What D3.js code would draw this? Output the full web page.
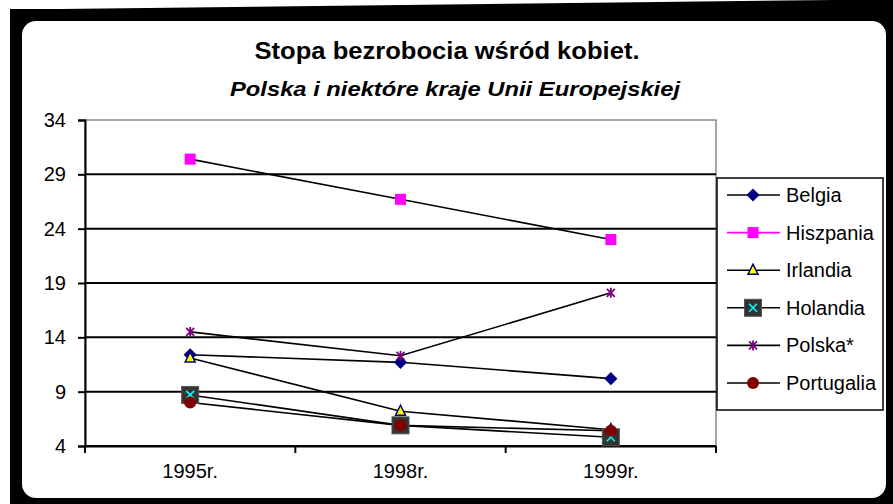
<!DOCTYPE html>
<html><head><meta charset="utf-8">
<script src="https://cdn.jsdelivr.net/npm/d3@7"></script>
<style>body{margin:0;background:#fff}svg{display:block}text{font-family:"Liberation Sans",Arial,sans-serif}</style>
</head><body>
<svg id="c" width="893" height="504"></svg>
<script>
const categories = ["1995r.", "1998r.", "1999r."];
const seriesNames = ["Belgia", "Hiszpania", "Irlandia", "Holandia", "Polska*", "Portugalia"];
const belgia = [12.4, 11.7, 10.2];
const hiszpania = [30.4, 26.7, 23.0];
const irlandia = [12.1, 7.2, 5.5];
const holandia = [8.7, 5.9, 4.8];
const polska = [14.5, 12.3, 18.1];
const portugalia = [8.0, 5.9, 5.4];
const yTicks = [4, 9, 14, 19, 24, 29, 34];
const title = "Stopa bezrobocia wśród kobiet.";
const subtitle = "Polska i niektóre kraje Unii Europejskiej";

const seriesValues = [belgia, hiszpania, irlandia, holandia, polska, portugalia];
const svg = d3.select("#c");

// frame
svg.append("path").attr("d", "M10,9 L60,9 L833,0 L893,0 L893,504 L10,504 Z").attr("fill", "#000");
svg.append("rect").attr("x", 22).attr("y", 21).attr("width", 864).attr("height", 477).attr("rx", 14).attr("fill", "#fff");

// titles
svg.append("text").attr("x", 447).attr("y", 59).attr("text-anchor", "middle")
  .attr("font-size", 23).attr("font-weight", "bold").attr("textLength", 385).attr("lengthAdjust", "spacingAndGlyphs").text(title);
svg.append("text").attr("x", 455).attr("y", 96).attr("text-anchor", "middle")
  .attr("font-size", 21).attr("font-weight", "bold").attr("font-style", "italic").attr("textLength", 450).attr("lengthAdjust", "spacingAndGlyphs").text(subtitle);

const L = 85, R = 716, T = 120, B = 446;
const x = d3.scaleBand().domain(categories).range([L, R]);
const y = d3.scaleLinear().domain([4, 34]).range([B, T]);
const cx = c => x(c) + x.bandwidth() / 2;

// plot border
svg.append("rect").attr("x", L).attr("y", T).attr("width", R - L).attr("height", B - T).attr("fill", "none").attr("stroke", "#888").attr("stroke-width", 1.5);

// gridlines
svg.append("g").selectAll("line").data(yTicks.filter(t => t !== 34)).join("line")
  .attr("x1", L).attr("x2", R).attr("y1", d => y(d)).attr("y2", d => y(d)).attr("stroke", "#000").attr("stroke-width", 2);

// y axis
const yAxis = svg.append("g").attr("transform", `translate(${L},0)`)
  .call(d3.axisLeft(y).tickValues(yTicks).tickSize(7).tickPadding(12));
yAxis.select(".domain").attr("stroke", "#000").attr("stroke-width", 2);
yAxis.selectAll(".tick line").attr("stroke", "#000").attr("stroke-width", 2);
yAxis.selectAll("text").attr("font-size", 20).attr("fill", "#000").attr("font-family", "Liberation Sans, Arial, sans-serif");

// x axis
const xAxis = svg.append("g").attr("transform", `translate(0,${B})`)
  .call(d3.axisBottom(x).tickSize(0).tickPadding(18));
xAxis.select(".domain").attr("stroke", "#000").attr("stroke-width", 2);
xAxis.selectAll("text").attr("font-size", 20).attr("fill", "#000").attr("font-family", "Liberation Sans, Arial, sans-serif");
const bounds = [L, ...categories.slice(1).map(c => x(c)), R];
svg.append("g").selectAll("line").data(bounds).join("line")
  .attr("x1", d => d).attr("x2", d => d).attr("y1", B).attr("y2", B + 7).attr("stroke", "#000").attr("stroke-width", 2);

// marker drawer
function marker(g, i) {
  if (i === 0) {
    g.append("path").attr("d", d3.symbol(d3.symbolDiamond2, 110)()).attr("fill", "#000080");
  } else if (i === 1) {
    g.append("rect").attr("x", -5.5).attr("y", -5.5).attr("width", 11).attr("height", 11).attr("fill", "#ff00ff");
  } else if (i === 2) {
    g.append("path").attr("d", "M0,-6 L5,4 L-5,4 Z").attr("fill", "#ffff00").attr("stroke", "#000080").attr("stroke-width", 1.5);
  } else if (i === 3) {
    g.append("rect").attr("x", -8.5).attr("y", -8.5).attr("width", 17).attr("height", 17).attr("fill", "#333").attr("stroke", "#555").attr("stroke-width", 1);
    g.append("path").attr("d", "M-4,-4 L4,4 M4,-4 L-4,4").attr("stroke", "#00ffff").attr("stroke-width", 1.6);
  } else if (i === 4) {
    g.append("path").attr("d", "M-4,-4 L4,4 M4,-4 L-4,4 M0,-5 L0,5").attr("stroke", "#800080").attr("stroke-width", 1.8);
  } else {
    g.append("circle").attr("r", 6).attr("fill", "#800000");
  }
}

// series lines
const line = d3.line().x((d, j) => cx(categories[j])).y(d => y(d));
seriesValues.forEach((vals, i) => {
  svg.append("path").datum(vals).attr("d", line).attr("fill", "none").attr("stroke", "#000").attr("stroke-width", 1.6);
});
seriesValues.forEach((vals, i) => {
  vals.forEach((v, j) => {
    const g = svg.append("g").attr("transform", `translate(${cx(categories[j])},${y(v)})`);
    marker(g, i);
  });
});

// legend
const lg = svg.append("g");
lg.append("rect").attr("x", 717).attr("y", 178).attr("width", 166).attr("height", 232).attr("fill", "#fff").attr("stroke", "#000").attr("stroke-width", 1.5);
seriesNames.forEach((n, i) => {
  const yy = 195 + i * 37.6;
  lg.append("line").attr("x1", 727).attr("x2", 780).attr("y1", yy).attr("y2", yy).attr("stroke", i === 1 ? "#ff00ff" : "#000").attr("stroke-width", 1.6);
  const g = lg.append("g").attr("transform", `translate(753,${yy})`);
  marker(g, i);
  lg.append("text").attr("x", 786).attr("y", yy + 7).attr("font-size", 20).text(n);
});
</script>
</body></html>
